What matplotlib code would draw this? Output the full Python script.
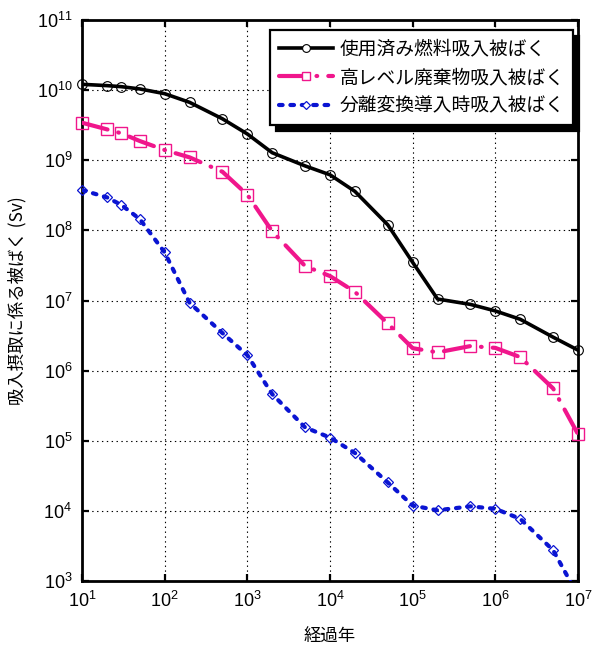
import numpy as np
from matplotlib import pyplot as plt
from matplotlib import ticker
from matplotlib.lines import Line2D

W, H = 593, 646
DPI = 100

plt.rcParams['font.family'] = ['Noto Sans CJK JP', 'DejaVu Sans']
plt.rcParams['lines.scale_dashes'] = False

years = [10, 20, 30, 50, 100, 200, 500, 1e3, 2e3, 5e3,
         1e4, 2e4, 5e4, 1e5, 2e5, 5e5, 1e6, 2e6, 5e6, 1e7]

spent_fuel = [1.21e10, 1.16e10, 1.12e10, 1.04e10, 8.9e9, 6.7e9, 3.9e9, 2.37e9, 1.28e9, 8.3e8,
              6.2e8, 3.6e8, 1.2e8, 3.5e7, 1.05e7, 8.8e6, 7.1e6, 5.4e6, 3.0e6, 1.96e6]
hlw = [3.43e9, 2.76e9, 2.42e9, 1.88e9, 1.40e9, 1.10e9, 6.85e8, 3.22e8, 9.7e7, 3.1e7,
       2.23e7, 1.33e7, 4.7e6, 2.09e6, 1.82e6, 2.24e6, 2.11e6, 1.56e6, 5.57e5, 1.24e5]
partition = [3.76e8, 2.96e8, 2.30e8, 1.45e8, 4.85e7, 9.27e6, 3.43e6, 1.66e6, 4.62e5, 1.55e5,
             1.11e5, 6.7e4, 2.54e4, 1.19e4, 1.02e4, 1.16e4, 1.07e4, 7.7e3, 2.75e3, 6.2e2]

xticks = [1e1, 1e2, 1e3, 1e4, 1e5, 1e6, 1e7]
yticks = [1e3, 1e4, 1e5, 1e6, 1e7, 1e8, 1e9, 1e10, 1e11]

labels = ["使用済み燃料吸入被ばく", "高レベル廃棄物吸入被ばく", "分離変換導入時吸入被ばく"]

PINK = "#f0168c"
BLUE = "#0a14d2"

styles = [
    dict(color="black", lw=2.6, ls="-", cap="butt", marker="o", ms=7, mew=0.8),
    dict(color=PINK, lw=3.0, ls=(0, (19, 8, 0.5, 8)), cap="round", marker="s", ms=8, mew=1.0),
    dict(color=BLUE, lw=3.0, ls=(0, (2.6, 5.6)), cap="round", marker="D", ms=5.5, mew=0.9),
]

fig = plt.figure(figsize=(W / DPI, H / DPI), dpi=DPI)
ax = fig.add_axes([82 / W, 1 - 581 / H, (578 - 82) / W, (581 - 20) / H])
ax.set_xscale("log")
ax.set_yscale("log")

handles = []
for ys, st, lab in zip([spent_fuel, hlw, partition], styles, labels):
    ys = np.array(ys)
    ax.plot(years, ys, color=st["color"], lw=st["lw"], ls=st["ls"],
            dash_capstyle=st["cap"], zorder=3)
    # markers drawn unclipped so the ones on the frame stay whole
    keep = ys >= yticks[0]
    ax.plot(np.array(years)[keep], ys[keep], ls="none", marker=st["marker"], ms=st["ms"],
            mfc="none", mec=st["color"], mew=st["mew"], clip_on=False, zorder=4)
    handles.append(Line2D([], [], color=st["color"], lw=st["lw"], ls=st["ls"],
                          dash_capstyle=st["cap"], marker=st["marker"], ms=st["ms"] * 0.8,
                          mfc="white", mec=st["color"], mew=st["mew"], label=lab))

ax.set_xticks(xticks)
ax.set_yticks(yticks)
ax.set_xlim(xticks[0], xticks[-1])
ax.set_ylim(yticks[0], yticks[-1])
ax.minorticks_off()
fmt = ticker.FuncFormatter(lambda v, pos: r"$\mathregular{10^{%d}}$" % round(np.log10(v)))
ax.xaxis.set_major_formatter(fmt)
ax.yaxis.set_major_formatter(fmt)
ax.grid(True, which="major", color="black", ls=(0, (1, 2.5)), lw=0.8)
ax.tick_params(which="both", direction="in", length=5, width=1.6, top=True, right=True,
               labelsize=13, pad=7)
for lab in ax.get_xticklabels() + ax.get_yticklabels():
    lab.set_family("Liberation Sans")
for sp in ax.spines.values():
    sp.set_linewidth(2)

ax.set_xlabel("経過年", fontsize=12.5, labelpad=12)
ax.set_ylabel("吸入摂取に係る被ばく (Sv)", fontsize=12.5, labelpad=7)

leg = ax.legend(handles=handles, loc="upper right", bbox_to_anchor=(0.99, 0.982), borderaxespad=0,
                fontsize=13.5, handlelength=2.9, handletextpad=0.35, labelspacing=0.4,
                borderpad=0.45, fancybox=False, edgecolor="black", framealpha=1,
                shadow={"color": "black", "alpha": 1, "ox": 4, "oy": -4})
leg.get_frame().set_linewidth(1.6)

fig.savefig("out.png", dpi=DPI)
